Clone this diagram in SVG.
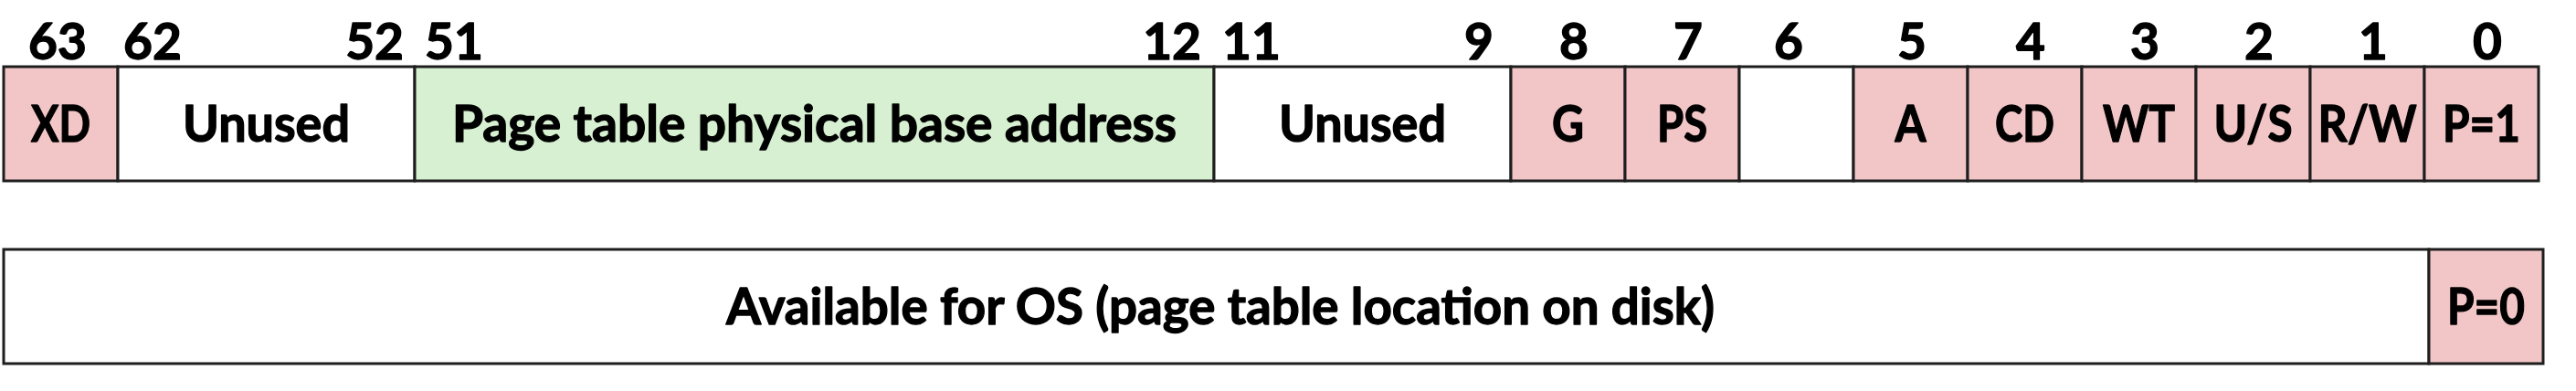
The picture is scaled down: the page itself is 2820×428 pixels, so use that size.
<svg xmlns="http://www.w3.org/2000/svg" width="2820" height="428" viewBox="0 0 2820 428">
<style>
  .cell { stroke: #1e1e1e; stroke-width: 3; }
  .pink { fill: #f2c6c7; }
  .green { fill: #d6f0d1; }
  .white { fill: #ffffff; }
  text { font-family: Lato, "Open Sans", "Liberation Sans", sans-serif; font-weight: 700; font-size: 55px; fill: #000; stroke: #000; stroke-width: 1.3; stroke-linejoin: round; }
  .lbl { text-anchor: middle; }
  .mid { text-anchor: middle; }
  .end { text-anchor: end; }
  .start { text-anchor: start; }
</style>
<rect width="2820" height="428" fill="#ffffff"/>

<g id="bit-numbers">
  <text class="mid" x="63" y="65">63</text>
  <text class="start" x="135" y="65">62</text>
  <text class="end" x="442" y="65">52</text>
  <text class="start" x="465" y="65">51</text>
  <text class="end" x="1315" y="65">12</text>
  <text class="start" x="1338" y="65">11</text>
  <text class="end" x="1635" y="65">9</text>
  <text class="mid" x="1723" y="65">8</text>
  <text class="mid" x="1848" y="65">7</text>
  <text class="mid" x="1958" y="65">6</text>
  <text class="mid" x="2093" y="65">5</text>
  <text class="mid" x="2223" y="65">4</text>
  <text class="mid" x="2348" y="65">3</text>
  <text class="mid" x="2473" y="65">2</text>
  <text class="mid" x="2598" y="65">1</text>
  <text class="mid" x="2723" y="65">0</text>
</g>

<g id="present-entry">
  <g id="xd">
    <rect class="cell pink" x="4" y="73" width="125" height="125"/>
    <text class="lbl" x="66.5" y="155" textLength="65" lengthAdjust="spacingAndGlyphs">XD</text>
  </g>
  <g id="unused-62-52">
    <rect class="cell white" x="129" y="73" width="325" height="125"/>
    <text class="lbl" x="291.5" y="155" textLength="183" lengthAdjust="spacingAndGlyphs">Unused</text>
  </g>
  <g id="base-address">
    <rect class="cell green" x="454" y="73" width="875" height="125"/>
    <text class="lbl" x="891.5" y="155" textLength="793" lengthAdjust="spacingAndGlyphs">Page table physical base address</text>
  </g>
  <g id="unused-11-9">
    <rect class="cell white" x="1329" y="73" width="325" height="125"/>
    <text class="lbl" x="1491.5" y="155" textLength="183" lengthAdjust="spacingAndGlyphs">Unused</text>
  </g>
  <g id="g-bit">
    <rect class="cell pink" x="1654" y="73" width="125" height="125"/>
    <text class="lbl" x="1716.5" y="155" textLength="35" lengthAdjust="spacingAndGlyphs">G</text>
  </g>
  <g id="ps-bit">
    <rect class="cell pink" x="1779" y="73" width="125" height="125"/>
    <text class="lbl" x="1841.5" y="155" textLength="55" lengthAdjust="spacingAndGlyphs">PS</text>
  </g>
  <g id="bit-6">
    <rect class="cell white" x="1904" y="73" width="125" height="125"/>
  </g>
  <g id="a-bit">
    <rect class="cell pink" x="2029" y="73" width="125" height="125"/>
    <text class="lbl" x="2091.5" y="155" textLength="34" lengthAdjust="spacingAndGlyphs">A</text>
  </g>
  <g id="cd-bit">
    <rect class="cell pink" x="2154" y="73" width="125" height="125"/>
    <text class="lbl" x="2216.5" y="155" textLength="65" lengthAdjust="spacingAndGlyphs">CD</text>
  </g>
  <g id="wt-bit">
    <rect class="cell pink" x="2279" y="73" width="125" height="125"/>
    <text class="lbl" x="2341.5" y="155" textLength="79" lengthAdjust="spacingAndGlyphs">WT</text>
  </g>
  <g id="us-bit">
    <rect class="cell pink" x="2404" y="73" width="125" height="125"/>
    <text class="lbl" x="2466.5" y="155" textLength="86" lengthAdjust="spacingAndGlyphs">U/S</text>
  </g>
  <g id="rw-bit">
    <rect class="cell pink" x="2529" y="73" width="125" height="125"/>
    <text class="lbl" x="2591.5" y="155" textLength="108" lengthAdjust="spacingAndGlyphs">R/W</text>
  </g>
  <g id="p1-bit">
    <rect class="cell pink" x="2654" y="73" width="125" height="125"/>
    <text class="lbl" x="2716.5" y="155" textLength="85" lengthAdjust="spacingAndGlyphs">P=1</text>
  </g>
</g>

<g id="not-present-entry">
  <g id="os-available">
    <rect class="cell white" x="4" y="273" width="2655" height="125"/>
    <text class="lbl" x="1336" y="355" textLength="1082" lengthAdjust="spacingAndGlyphs">Available for OS (page table location on disk)</text>
  </g>
  <g id="p0-bit">
    <rect class="cell pink" x="2659" y="273" width="125" height="125"/>
    <text class="lbl" x="2721.5" y="355" textLength="85" lengthAdjust="spacingAndGlyphs">P=0</text>
  </g>
</g>
</svg>
